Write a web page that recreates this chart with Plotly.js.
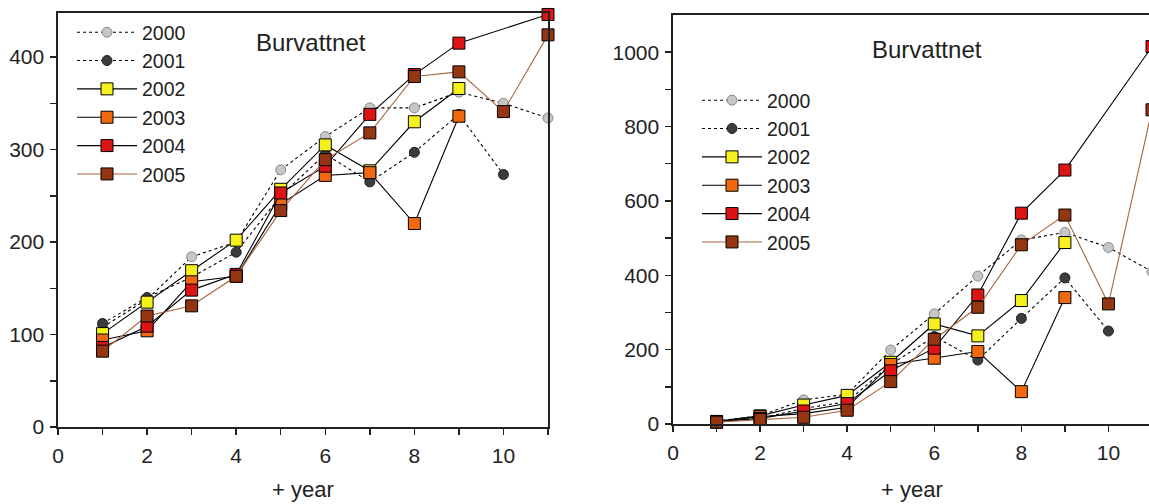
<!DOCTYPE html>
<html>
<head>
<meta charset="utf-8">
<script src="https://cdn.plot.ly/plotly-3.0.1.min.js"></script>
<style>
html,body{margin:0;padding:0;background:#fff;overflow:hidden;}
#chart{width:1152px;height:504px;}
</style>
</head>
<body>
<div id="chart"></div>
<script>
// ---- data ----
const years = [1, 2, 3, 4, 5, 6, 7, 8, 9, 10, 11];
const seriesNames = ['2000', '2001', '2002', '2003', '2004', '2005'];

// left panel
const left2000 = [108, 138, 184, 200, 278, 314, 345, 345, 362, 350, 334];
const left2001 = [112, 140, 162, 189, 250, 295, 265, 297, 338, 273, null];
const left2002 = [101, 135, 169, 202, 257, 305, 277, 330, 366, null, null];
const left2003 = [94, 104, 157, 163, 241, 272, 275, 220, 336, null, null];
const left2004 = [86, 109, 148, 165, 253, 282, 338, 381, 415, null, 446];
const left2005 = [82, 120, 131, 163, 234, 289, 318, 379, 384, 341, 424];

// right panel
const right2000 = [8, 22, 65, 80, 199, 296, 398, 495, 515, 475, 410];
const right2001 = [6, 15, 42, 60, 160, 235, 172, 284, 393, 250, null];
const right2002 = [7, 22, 51, 77, 166, 269, 237, 332, 488, null, null];
const right2003 = [5, 20, 28, 45, 160, 177, 195, 87, 340, null, null];
const right2004 = [6, 15, 35, 55, 143, 204, 347, 567, 683, null, 1015];
const right2005 = [5, 12, 18, 37, 114, 228, 314, 482, 562, 323, 845];

const xTickVals = [0, 1, 2, 3, 4, 5, 6, 7, 8, 9, 10, 11];
const xTickText = ['0', '', '2', '', '4', '', '6', '', '8', '', '10', ''];
const leftYTickVals = [0, 50, 100, 150, 200, 250, 300, 350, 400];
const leftYTickText = ['0', '', '100', '', '200', '', '300', '', '400'];
const rightYTickVals = [0, 100, 200, 300, 400, 500, 600, 700, 800, 900, 1000];
const rightYTickText = ['0', '', '200', '', '400', '', '600', '', '800', '', '1000'];
const panelLabel = 'Burvattnet';
const xLabel = '+ year';

// ---- styles ----
const styles = [
  {symbol: 'circle', fill: '#c6c6c6', edge: '#8a8a8a', line: '#000', dash: 'dot', size: 10},
  {symbol: 'circle', fill: '#3c3c3c', edge: '#202020', line: '#000', dash: 'dot', size: 10},
  {symbol: 'square', fill: '#f6f01c', edge: '#000', line: '#000', dash: 'solid', size: 12},
  {symbol: 'square', fill: '#f2680f', edge: '#000', line: '#000', dash: 'solid', size: 12},
  {symbol: 'square', fill: '#dd1414', edge: '#000', line: '#000', dash: 'solid', size: 12},
  {symbol: 'square', fill: '#953612', edge: '#000', line: '#a8643c', dash: 'solid', size: 12}
];

const leftData = [left2000, left2001, left2002, left2003, left2004, left2005];
const rightData = [right2000, right2001, right2002, right2003, right2004, right2005];

const traces = [];
function addPanel(dataSets, xa, ya, legendId) {
  dataSets.forEach((vals, i) => {
    const s = styles[i];
    traces.push({
      type: 'scatter', mode: 'lines+markers',
      x: years, y: vals, xaxis: xa, yaxis: ya,
      name: seriesNames[i], legend: legendId,
      connectgaps: true, cliponaxis: false,
      line: {color: s.line, width: 1.1, dash: s.dash},
      marker: {symbol: s.symbol, size: s.size, color: s.fill, line: {color: s.edge, width: 1}}
    });
  });
}
addPanel(leftData, 'x', 'y', 'legend');
addPanel(rightData, 'x2', 'y2', 'legend2');

const tickFont = {family: 'Liberation Sans, Arial, sans-serif', size: 21, color: '#222'};
const W = 1152, H = 504;

function xAxis(d0, d1, anchor) {
  return {
    domain: [d0 / W, d1 / W], range: [0, 11], anchor: anchor,
    tickmode: 'array', tickvals: xTickVals, ticktext: xTickText,
    ticks: 'outside', ticklen: 6, tickwidth: 1.5, tickcolor: '#222',
    showline: true, linewidth: 1.6, linecolor: '#222', mirror: true,
    showgrid: false, zeroline: false, tickfont: tickFont, ticklabelstandoff: 3,
    fixedrange: true
  };
}
function yAxis(top, bottom, range, tv, tt, anchor) {
  return {
    domain: [(H - bottom) / H, (H - top) / H], range: range, anchor: anchor,
    tickmode: 'array', tickvals: tv, ticktext: tt,
    ticks: 'outside', ticklen: 6, tickwidth: 1.5, tickcolor: '#222',
    showline: true, linewidth: 1.6, linecolor: '#222', mirror: true,
    showgrid: false, zeroline: false, tickfont: tickFont, ticklabelstandoff: 2,
    fixedrange: true
  };
}

const legendBase = {
  font: {family: 'Liberation Sans, Arial, sans-serif', size: 19.5, color: '#222'},
  bgcolor: 'rgba(255,255,255,0)', borderwidth: 0, itemwidth: 60,
  xanchor: 'left', yanchor: 'top', traceorder: 'normal'
};

const layout = {
  width: W, height: H,
  margin: {l: 0, r: 0, t: 0, b: 0},
  paper_bgcolor: '#fff', plot_bgcolor: '#fff',
  showlegend: true,
  xaxis: xAxis(58, 548, 'y'),
  yaxis: yAxis(13, 427, [0, 447.6], leftYTickVals, leftYTickText, 'x'),
  xaxis2: xAxis(673, 1152, 'y2'),
  yaxis2: yAxis(15, 424, [0, 1100], rightYTickVals, rightYTickText, 'x2'),
  legend: Object.assign({}, legendBase, {x: 72 / W, y: (H - 13) / H}),
  legend2: Object.assign({}, legendBase, {x: 697 / W, y: (H - 81) / H}),
  annotations: [
    {xref: 'x', yref: 'y', x: 5.68, y: 415.5, text: panelLabel, showarrow: false,
     font: {family: 'Liberation Sans, Arial, sans-serif', size: 24, color: '#222'}},
    {xref: 'x2', yref: 'y2', x: 5.84, y: 1006, text: panelLabel, showarrow: false,
     font: {family: 'Liberation Sans, Arial, sans-serif', size: 24, color: '#222'}},
    {xref: 'x domain', yref: 'paper', x: 0.5, y: (H - 489) / H, yanchor: 'middle', text: xLabel, showarrow: false,
     font: {family: 'Liberation Sans, Arial, sans-serif', size: 22, color: '#222'}},
    {xref: 'x2 domain', yref: 'paper', x: (912 - 673) / (1152 - 673), y: (H - 489) / H, yanchor: 'middle', text: xLabel, showarrow: false,
     font: {family: 'Liberation Sans, Arial, sans-serif', size: 22, color: '#222'}}
  ]
};

Plotly.newPlot('chart', traces, layout, {displayModeBar: false, staticPlot: true});
</script>
</body>
</html>
